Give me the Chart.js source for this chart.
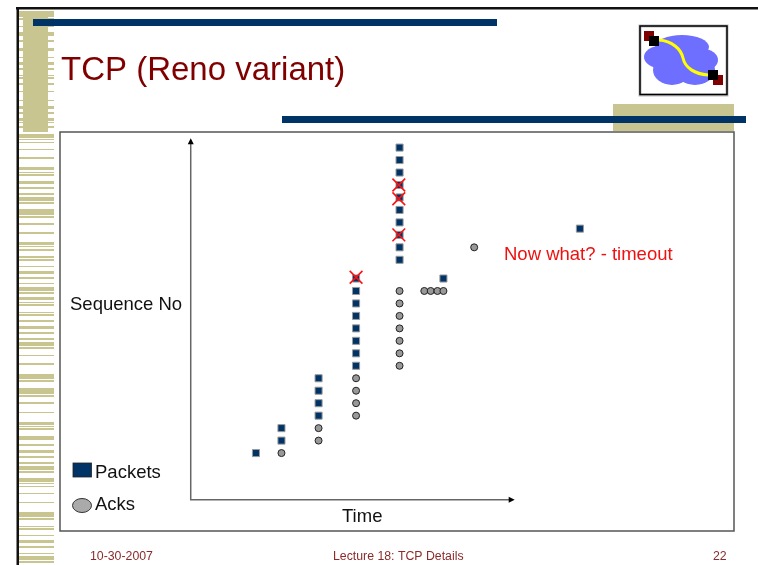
<!DOCTYPE html>
<html>
<head>
<meta charset="utf-8">
<title>TCP (Reno variant)</title>
<script src="https://cdn.jsdelivr.net/npm/chart.js@4"></script>
<style>
html, body { margin: 0; padding: 0; background: #fff; overflow: hidden; }
canvas { display: block; }
</style>
</head>
<body>
<canvas id="myChart" width="758" height="565"></canvas>
<script>
// values: time in round trips, sequence in packets
const packetTimes = [1.74, 2.42, 2.42, 3.41, 3.41, 3.41, 3.41,
    4.41, 4.41, 4.41, 4.41, 4.41, 4.41, 4.41, 4.41,
    5.57, 5.57, 5.57, 5.57, 5.57, 5.57, 5.57, 5.57, 5.57, 5.57,
    6.74, 10.38];
const packetSeqs = [1, 2, 3, 4, 5, 6, 7,
    8, 9, 10, 11, 12, 13, 14, 15,
    16.5, 17.5, 18.5, 19.5, 20.5, 21.5, 22.5, 23.5, 24.5, 25.5,
    15, 19];
const ackTimes = [2.42, 3.41, 3.41, 4.41, 4.41, 4.41, 4.41,
    5.57, 5.57, 5.57, 5.57, 5.57, 5.57, 5.57,
    6.23, 6.40, 6.58, 6.74, 7.56];
const ackSeqs = [1, 2, 3, 4, 5, 6, 7,
    8, 9, 10, 11, 12, 13, 14,
    14, 14, 14, 14, 17.5];
const lostTimes = [4.41, 5.55, 5.55, 5.55];
const lostSeqs = [15.1, 18.5, 21.4, 22.5];

const axisOriginTime = 0;
const axisOriginSeq = -2.75;
const axisEndTime = 8.64;
const axisEndSeq = 26.25;

const stripes = [[11, 17], [18, 20], [26, 27], [32, 36], [40, 42], [48, 51], [57, 58], [62, 65],
    [68, 70], [75, 76], [77, 79], [83, 85], [91, 92], [100, 101], [106, 109], [112, 114],
    [118, 121], [122, 123], [126, 128], [134, 138], [139, 140], [142, 143], [149, 150], [157, 159],
    [167, 170], [172, 173], [174, 176], [181, 184], [187, 189], [193, 195], [197, 201], [202, 204],
    [209, 215], [216, 218], [223, 225], [232, 234], [242, 245], [246, 247], [249, 251], [256, 258],
    [259, 261], [266, 267], [271, 274], [277, 279], [283, 284], [287, 291], [292, 294], [297, 300],
    [302, 303], [304, 306], [312, 313], [314, 316], [320, 322], [326, 329], [332, 334], [338, 340],
    [342, 346], [347, 349], [355, 356], [363, 365], [374, 379], [380, 382], [388, 394], [395, 397],
    [402, 404], [412, 413], [422, 425], [426, 427], [428, 430], [436, 440], [444, 446], [450, 453],
    [456, 458], [462, 464], [466, 470], [471, 473], [478, 482], [483, 484], [486, 487], [493, 494],
    [502, 503], [512, 517], [518, 520], [526, 527], [528, 530], [535, 536], [540, 543], [546, 548],
    [553, 554], [556, 560], [561, 563]];

const OLIVE = '#c9c591';
const NAVY = '#003366';
const FONT = '"Liberation Sans", Arial, sans-serif';

function label(ctx, text, x, y, size, color, align) {
    ctx.font = size + 'px ' + FONT;
    ctx.fillStyle = color;
    ctx.textAlign = align || 'left';
    ctx.textBaseline = 'alphabetic';
    ctx.fillText(text, x, y);
}

function drawIcon(ctx) {
    ctx.fillStyle = '#fff';
    ctx.fillRect(639, 25, 89, 70);
    ctx.fillStyle = '#6f6fff';
    [[682, 47, 27, 12], [660, 57, 16, 11], [703, 60, 15, 11], [682, 60, 25, 15], [672, 70, 19, 15], [695, 70, 20, 15]].forEach(e => {
        ctx.beginPath();
        ctx.ellipse(e[0], e[1], e[2], e[3], 0, 0, Math.PI * 2);
        ctx.fill();
    });
    ctx.strokeStyle = '#ffff00';
    ctx.lineWidth = 3;
    ctx.beginPath();
    ctx.moveTo(659, 40);
    ctx.bezierCurveTo(672, 41, 681, 49, 683, 58);
    ctx.bezierCurveTo(685, 68, 695, 74, 708, 75);
    ctx.stroke();
    ctx.fillStyle = '#800000';
    ctx.fillRect(644, 31, 10, 10);
    ctx.fillRect(713, 75, 10, 10);
    ctx.fillStyle = '#000';
    ctx.fillRect(649, 36, 10, 10);
    ctx.fillRect(708, 70, 10, 10);
    ctx.strokeStyle = '#bbb';
    ctx.lineWidth = 3;
    ctx.strokeRect(640, 26, 87, 69);
    ctx.strokeStyle = '#000';
    ctx.lineWidth = 1.5;
    ctx.strokeRect(640, 26, 87, 68.5);
}

// slide furniture goes under the points
const slidePlugin = {
    id: 'slide',
    beforeDatasetsDraw(chart) {
        const ctx = chart.ctx;
        const x = chart.scales.x;
        const y = chart.scales.y;
        ctx.save();
        ctx.fillStyle = '#fff';
        ctx.fillRect(0, 0, 758, 565);

        ctx.fillStyle = OLIVE;
        stripes.forEach(s => ctx.fillRect(19, s[0], 35, s[1] - s[0]));
        ctx.fillRect(23, 11, 25, 121);
        ctx.fillRect(613, 104, 121, 27);

        ctx.fillStyle = '#111';
        ctx.fillRect(16, 7, 742, 2.5);
        ctx.fillRect(16.5, 7, 2.5, 558);

        ctx.fillStyle = NAVY;
        ctx.fillRect(33, 19, 464, 7);
        ctx.fillRect(282, 116, 464, 7);

        ctx.strokeStyle = '#555';
        ctx.lineWidth = 1.5;
        ctx.strokeRect(60, 132, 674, 399);

        drawIcon(ctx);

        // axes
        const ox = x.getPixelForValue(axisOriginTime);
        const oy = y.getPixelForValue(axisOriginSeq);
        const ex = x.getPixelForValue(axisEndTime);
        const ey = y.getPixelForValue(axisEndSeq);
        ctx.strokeStyle = '#666';
        ctx.lineWidth = 1.5;
        ctx.beginPath();
        ctx.moveTo(ox, ey + 4);
        ctx.lineTo(ox, oy);
        ctx.lineTo(ex - 4, oy);
        ctx.stroke();
        ctx.fillStyle = '#000';
        ctx.beginPath();
        ctx.moveTo(ox, ey);
        ctx.lineTo(ox + 3, ey + 6);
        ctx.lineTo(ox - 3, ey + 6);
        ctx.closePath();
        ctx.fill();
        ctx.beginPath();
        ctx.moveTo(ex, oy);
        ctx.lineTo(ex - 6, oy - 3);
        ctx.lineTo(ex - 6, oy + 3);
        ctx.closePath();
        ctx.fill();

        // legend
        ctx.fillStyle = NAVY;
        ctx.fillRect(73, 463, 18.5, 14);
        ctx.strokeStyle = '#222';
        ctx.lineWidth = 0.8;
        ctx.strokeRect(73, 463, 18.5, 14);
        ctx.fillStyle = '#aaa';
        ctx.beginPath();
        ctx.ellipse(82, 505.5, 9.5, 7, 0, 0, Math.PI * 2);
        ctx.fill();
        ctx.strokeStyle = '#333';
        ctx.lineWidth = 1;
        ctx.stroke();

        label(ctx, 'TCP (Reno variant)', 61, 80, 33, '#800000');
        label(ctx, 'Sequence No', 70, 310, 18.5, '#111');
        label(ctx, 'Packets', 95, 478, 18.5, '#111');
        label(ctx, 'Acks', 95, 510, 18.5, '#111');
        label(ctx, 'Time', 342, 522, 18.5, '#111');
        label(ctx, 'Now what? - timeout', 504, 260, 18.5, '#f01010');
        label(ctx, '10-30-2007', 90, 560, 12.3, '#8b2a2a');
        label(ctx, 'Lecture 18: TCP Details', 333, 560, 12.3, '#8b2a2a');
        label(ctx, '22', 713, 560, 12.3, '#8b2a2a');
        ctx.restore();
    }
};

function toPoints(times, seqs) {
    return times.map((t, i) => ({ x: t, y: seqs[i] }));
}

const ctx = document.getElementById('myChart').getContext('2d');
new Chart(ctx, {
    type: 'scatter',
    plugins: [slidePlugin],
    data: {
        datasets: [
            {
                label: 'Packets',
                data: toPoints(packetTimes, packetSeqs),
                pointStyle: 'rect',
                pointRadius: 5,
                backgroundColor: NAVY,
                borderColor: '#9a9a9a',
                borderWidth: 1,
                order: 2
            },
            {
                label: 'Acks',
                data: toPoints(ackTimes, ackSeqs),
                pointStyle: 'circle',
                pointRadius: 3.5,
                backgroundColor: '#999',
                borderColor: '#222',
                borderWidth: 1,
                order: 2
            },
            {
                label: 'Lost',
                data: toPoints(lostTimes, lostSeqs),
                pointStyle: 'crossRot',
                pointRadius: 9,
                borderColor: '#ff1010',
                borderWidth: 1.6,
                order: 1
            }
        ]
    },
    options: {
        responsive: false,
        animation: false,
        layout: { padding: { left: 61, right: 24, top: 132, bottom: 34 } },
        plugins: { legend: { display: false }, tooltip: { enabled: false } },
        scales: {
            x: { type: 'linear', display: false, min: -3.46, max: 14.49 },
            y: { type: 'linear', display: false, min: -5.25, max: 26.75 }
        }
    }
});
</script>
</body>
</html>
